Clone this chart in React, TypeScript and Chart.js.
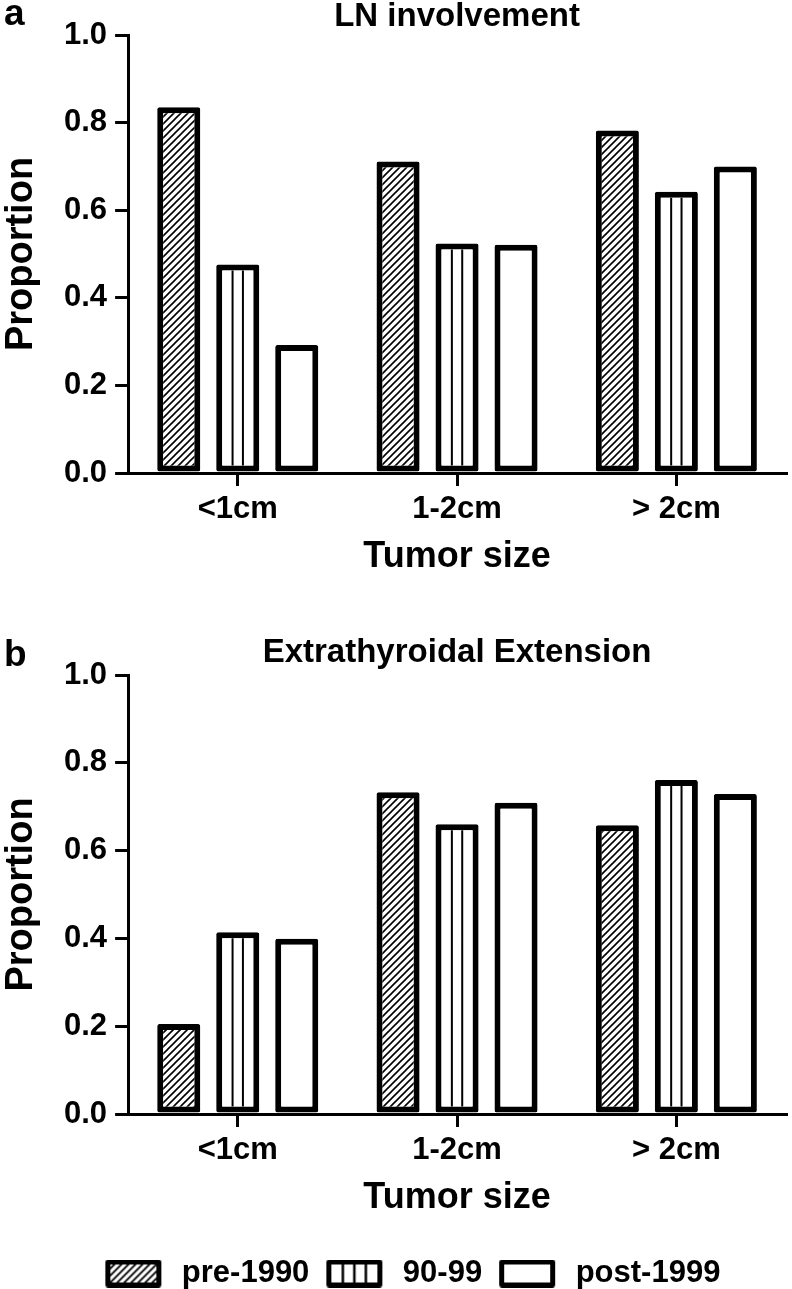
import React, { useEffect, useRef } from 'react';
import { Chart, registerables } from 'chart.js';

Chart.register(...registerables);

// ---------- data ----------
const categories = ['<1cm', '1-2cm', '> 2cm'];
const seriesLabels = ['pre-1990', '90-99', 'post-1999'];

const lnPre1990 = [0.835, 0.711, 0.782];
const ln9099 = [0.476, 0.524, 0.642];
const lnPost1999 = [0.292, 0.521, 0.70];

const etePre1990 = [0.205, 0.733, 0.658];
const ete9099 = [0.414, 0.66, 0.761];
const etePost1999 = [0.399, 0.709, 0.729];

const yMin = 0;
const yMax = 1.0;
const yStep = 0.2;

const titleA = 'LN involvement';
const titleB = 'Extrathyroidal Extension';
const xTitle = 'Tumor size';
const yTitle = 'Proportion';

// ---------- styling helpers ----------
const FONT = 'Liberation Sans';
const BORDER = 6;

function hatchCanvas(period: number, lw: number): HTMLCanvasElement {
  const c = document.createElement('canvas');
  c.width = period;
  c.height = period;
  const g = c.getContext('2d')!;
  g.fillStyle = '#fff';
  g.fillRect(0, 0, period, period);
  g.strokeStyle = '#000';
  g.lineWidth = lw;
  g.beginPath();
  g.moveTo(-1, period + 1);
  g.lineTo(period + 1, -1);
  g.moveTo(-2, 2);
  g.lineTo(2, -2);
  g.moveTo(period - 2, period + 2);
  g.lineTo(period + 2, period - 2);
  g.stroke();
  return c;
}

function makeSwatch(kind: number): HTMLCanvasElement {
  const padL = 14;
  const padR = 5;
  const w = 56;
  const h = 28;
  const c = document.createElement('canvas');
  c.width = padL + w + padR;
  c.height = h;
  const g = c.getContext('2d')!;
  g.fillStyle = '#000';
  g.beginPath();
  (g as any).roundRect ? (g as any).roundRect(padL, 0, w, h, 3) : g.rect(padL, 0, w, h);
  g.fill();
  const bw = 5;
  const ix = padL + bw;
  const iy = bw;
  const iw = w - 2 * bw;
  const ih = h - 2 * bw;
  if (kind === 0) {
    const p = g.createPattern(hatchCanvas(7, 1.8), 'repeat')!;
    g.fillStyle = p;
  } else {
    g.fillStyle = '#fff';
  }
  g.fillRect(ix, iy, iw, ih);
  if (kind === 1) {
    g.strokeStyle = '#000';
    g.lineWidth = 2.5;
    g.beginPath();
    for (let k = 1; k <= 3; k++) {
      const lx = ix + (iw * k) / 4;
      g.moveTo(lx, iy);
      g.lineTo(lx, iy + ih);
    }
    g.stroke();
  }
  return c;
}

const verticalLinesPlugin = {
  id: 'verticalLines',
  afterDatasetsDraw(chart: any) {
    const meta = chart.getDatasetMeta(1);
    const ctx = chart.ctx;
    ctx.save();
    ctx.strokeStyle = '#000';
    ctx.lineWidth = 2;
    ctx.beginPath();
    meta.data.forEach((bar: any) => {
      const { x, y, base, width } = bar.getProps(['x', 'y', 'base', 'width'], true);
      const left = x - width / 2 + BORDER;
      const inner = width - 2 * BORDER;
      for (let k = 1; k <= 2; k++) {
        const lx = left + (inner * k) / 3;
        ctx.moveTo(lx, y + BORDER);
        ctx.lineTo(lx, base - BORDER);
      }
    });
    ctx.stroke();
    ctx.restore();
  },
};

function letterPlugin(letter: string, baseline: number) {
  return {
    id: 'panelLetter',
    afterDraw(chart: any) {
      const ctx = chart.ctx;
      ctx.save();
      ctx.fillStyle = '#000';
      ctx.font = `bold 37px "${FONT}"`;
      ctx.textBaseline = 'alphabetic';
      ctx.textAlign = 'left';
      ctx.fillText(letter, 4, baseline);
      ctx.restore();
    },
  };
}

const legendShiftPlugin = {
  id: 'legendShift',
  afterLayout(chart: any) {
    if (chart.legend && chart.options.plugins.legend.display) {
      chart.legend.left += 24;
      chart.legend.top += 10;
      chart.legend.bottom += 10;
    }
  },
};

const whiteBg = {
  id: 'whiteBg',
  beforeDraw(chart: any) {
    const ctx = chart.ctx;
    ctx.save();
    ctx.fillStyle = '#fff';
    ctx.fillRect(0, 0, chart.width, chart.height);
    ctx.restore();
  },
};

interface PanelOpts {
  title: string;
  pre: number[];
  mid: number[];
  post: number[];
  titlePadTop: number;
  titlePadBottom: number;
  xTitlePadBottom: number;
  legend: boolean;
  letter: string;
  letterBaseline: number;
}

function buildConfig(ctx: CanvasRenderingContext2D, o: PanelOpts): any {
  const hatch = ctx.createPattern(hatchCanvas(7, 1.6), 'repeat');
  const fills: any[] = [hatch, '#fff', '#fff'];
  const values = [o.pre, o.mid, o.post];
  const swatches = [makeSwatch(0), makeSwatch(1), makeSwatch(2)];
  const tickGrid = {
    display: true,
    drawOnChartArea: false,
    drawTicks: true,
    tickLength: 13,
    lineWidth: 3,
    color: '#000',
  };
  return {
    type: 'bar',
    data: {
      labels: categories,
      datasets: seriesLabels.map((label, i) => ({
        label,
        data: values[i],
        backgroundColor: fills[i],
        borderColor: '#000',
        borderWidth: BORDER,
        borderSkipped: false,
        borderRadius: 2,
        categoryPercentage: 0.807,
        barPercentage: 0.73,
      })),
    },
    options: {
      responsive: false,
      animation: false,
      events: [],
      layout: { padding: { left: 1.7, right: 6, top: 0, bottom: 0 } },
      plugins: {
        tooltip: { enabled: false },
        title: {
          display: true,
          fullSize: false,
          text: o.title,
          color: '#000',
          font: { family: FONT, size: 33, weight: 'bold', lineHeight: 1 },
          padding: { top: o.titlePadTop, bottom: o.titlePadBottom },
        },
        legend: {
          display: o.legend,
          position: 'bottom',
          labels: {
            usePointStyle: true,
            pointStyleWidth: 75,
            boxHeight: 28,
            padding: 3,
            color: '#000',
            font: { family: FONT, size: 31, weight: 'bold' },
            generateLabels: (chart: any) => {
              const base = Chart.defaults.plugins.legend.labels.generateLabels(chart);
              return base.map((l: any, i: number) => ({ ...l, pointStyle: swatches[i], rotation: 0 }));
            },
          },
        },
      },
      scales: {
        x: {
          type: 'category',
          offset: true,
          grid: { ...tickGrid, offset: false },
          border: { display: true, width: 3, color: '#000' },
          ticks: {
            color: '#000',
            font: { family: FONT, size: 31, weight: 'bold' },
            padding: 5,
            maxRotation: 0,
            autoSkip: false,
          },
          title: {
            display: true,
            text: xTitle,
            color: '#000',
            font: { family: FONT, size: 36, weight: 'bold', lineHeight: 1.2 },
            padding: { top: 2.2, bottom: o.xTitlePadBottom },
          },
        },
        y: {
          min: yMin,
          max: yMax,
          grid: tickGrid,
          border: { display: true, width: 3, color: '#000' },
          ticks: {
            stepSize: yStep,
            color: '#000',
            padding: 8,
            font: { family: FONT, size: 31, weight: 'bold' },
            callback: (v: any) => Number(v).toFixed(1),
          },
          title: {
            display: true,
            text: yTitle,
            color: '#000',
            font: { family: FONT, size: 38, weight: 'bold', lineHeight: 1 },
            padding: { top: 1, bottom: 15.3 },
          },
        },
      },
    },
    plugins: [whiteBg, verticalLinesPlugin, letterPlugin(o.letter, o.letterBaseline), legendShiftPlugin],
  };
}

export default function App() {
  const refA = useRef<HTMLCanvasElement>(null);
  const refB = useRef<HTMLCanvasElement>(null);

  useEffect(() => {
    document.body.style.margin = '0';
    Chart.defaults.font.family = FONT;
    Chart.defaults.color = '#000';
    const ca = refA.current!;
    const cb = refB.current!;
    const chartA = new Chart(
      ca,
      buildConfig(ca.getContext('2d')!, {
        title: titleA,
        pre: lnPre1990,
        mid: ln9099,
        post: lnPost1999,
        titlePadTop: 0.5,
        titlePadBottom: 1.5,
        xTitlePadBottom: 1.4,
        legend: false,
        letter: 'a',
        letterBaseline: 25,
      })
    );
    const chartB = new Chart(
      cb,
      buildConfig(cb.getContext('2d')!, {
        title: titleB,
        pre: etePre1990,
        mid: ete9099,
        post: etePost1999,
        titlePadTop: 56,
        titlePadBottom: 6,
        xTitlePadBottom: 25.4,
        legend: true,
        letter: 'b',
        letterBaseline: 86,
      })
    );
    return () => {
      chartA.destroy();
      chartB.destroy();
    };
  }, []);

  return (
    <div style={{ width: 792, background: '#fff' }}>
      <canvas ref={refA} width={792} height={580} style={{ display: 'block' }} />
      <canvas ref={refB} width={792} height={709} style={{ display: 'block' }} />
    </div>
  );
}
